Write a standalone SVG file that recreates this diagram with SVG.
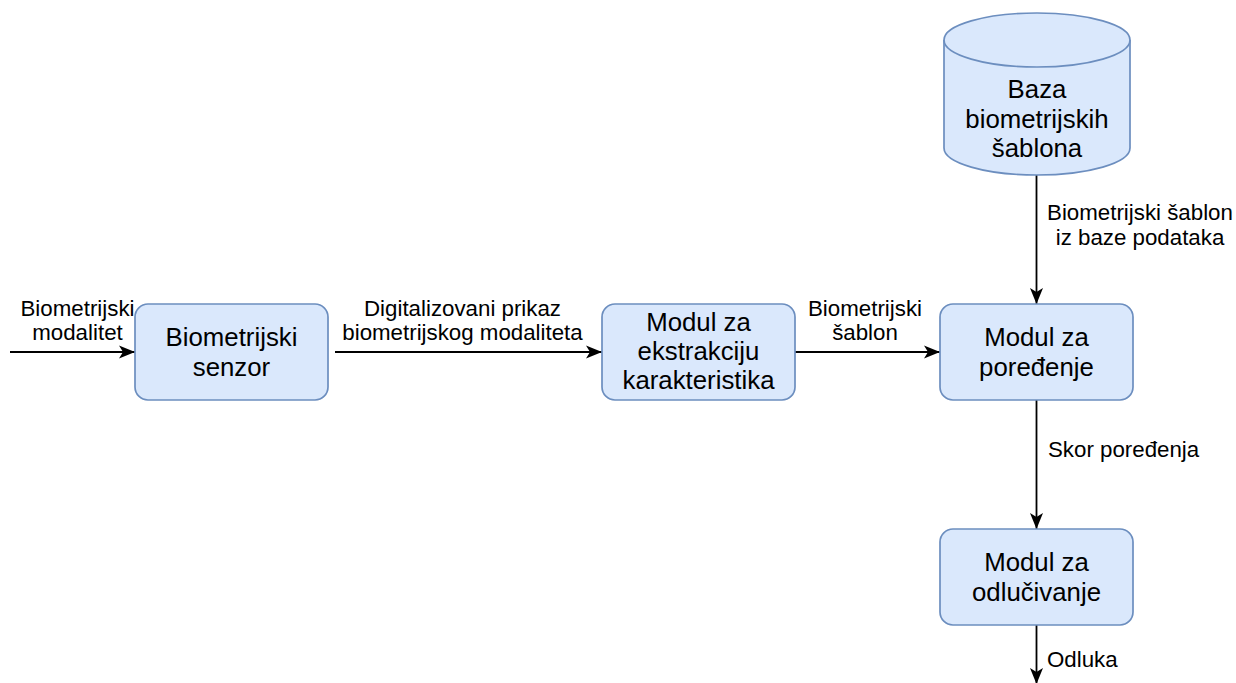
<svg xmlns="http://www.w3.org/2000/svg" width="1236" height="683" viewBox="0 0 1236 683">
  <style>
    .node { fill: #dae8fc; stroke: #6c8ebf; stroke-width: 1.7; }
    .ntext { font-family: "Liberation Sans", Arial, sans-serif; font-size: 25.8px; fill: #000; text-anchor: middle; }
    .ltext { font-family: "Liberation Sans", Arial, sans-serif; font-size: 22.3px; fill: #000; }
    .edge { fill: none; stroke: #000; stroke-width: 1.8; marker-end: url(#arrow); }
  </style>
  <defs>
    <marker id="arrow" markerUnits="userSpaceOnUse" markerWidth="17" markerHeight="14" refX="16" refY="7" orient="auto">
      <path d="M0,0.5 L16,7 L0,13.5 L4,7 Z" fill="#000"/>
    </marker>
  </defs>
  <rect width="1236" height="683" fill="#fff"/>

  <!-- connectors -->
  <g id="connectors">
    <path class="edge" d="M10,352 L135,352"/>
    <path class="edge" d="M335,352 L602,352"/>
    <path class="edge" d="M795,352 L940,352"/>
    <path class="edge" d="M1036.5,175 L1036.5,304"/>
    <path class="edge" d="M1036.5,400 L1036.5,529"/>
    <path class="edge" d="M1036.5,625 L1036.5,684"/>
    <g class="ltext">
      <text x="77.5" y="316" text-anchor="middle">Biometrijski</text>
      <text x="77.5" y="340" text-anchor="middle">modalitet</text>
      <text x="462.5" y="316" text-anchor="middle">Digitalizovani prikaz</text>
      <text x="462.5" y="340" text-anchor="middle">biometrijskog modaliteta</text>
      <text x="865" y="316" text-anchor="middle">Biometrijski</text>
      <text x="865" y="340" text-anchor="middle">šablon</text>
      <text x="1140" y="220" text-anchor="middle">Biometrijski šablon</text>
      <text x="1140" y="245" text-anchor="middle">iz baze podataka</text>
      <text x="1048" y="457">Skor poređenja</text>
      <text x="1047" y="667">Odluka</text>
    </g>
  </g>

  <!-- database of templates -->
  <g id="baza">
    <path class="node" d="M944,40 A93,27 0 0 1 1130,40 L1130,148 A93,27 0 0 1 944,148 Z"/>
    <path class="node" d="M944,40 A93,27 0 0 0 1130,40" fill="none"/>
    <text class="ntext" x="1037" y="98">Baza</text>
    <text class="ntext" x="1037" y="127.5">biometrijskih</text>
    <text class="ntext" x="1037" y="157">šablona</text>
  </g>

  <g id="senzor">
    <rect class="node" x="135" y="304" width="193" height="96" rx="13"/>
    <text class="ntext" x="231.5" y="346">Biometrijski</text>
    <text class="ntext" x="231.5" y="375.5">senzor</text>
  </g>

  <g id="ekstrakcija">
    <rect class="node" x="602" y="304" width="193" height="96" rx="13"/>
    <text class="ntext" x="698.5" y="331">Modul za</text>
    <text class="ntext" x="698.5" y="360">ekstrakciju</text>
    <text class="ntext" x="698.5" y="389">karakteristika</text>
  </g>

  <g id="poredjenje">
    <rect class="node" x="940" y="304" width="193" height="96" rx="13"/>
    <text class="ntext" x="1036.5" y="346">Modul za</text>
    <text class="ntext" x="1036.5" y="375.5">poređenje</text>
  </g>

  <g id="odlucivanje">
    <rect class="node" x="940" y="529" width="193" height="96" rx="13"/>
    <text class="ntext" x="1036.5" y="571">Modul za</text>
    <text class="ntext" x="1036.5" y="600.5">odlučivanje</text>
  </g>
</svg>
